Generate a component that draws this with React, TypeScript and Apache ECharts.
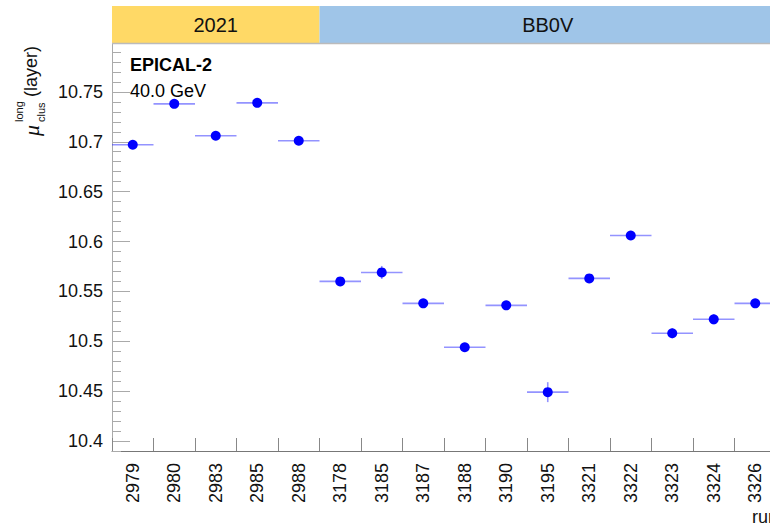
import React, { useEffect, useRef } from 'react';
import * as echarts from 'echarts';

const runs = ['2979', '2980', '2983', '2985', '2988', '3178', '3185', '3187', '3188', '3190', '3195', '3321', '3322', '3323', '3324', '3326'];
const meanLayer = [10.697, 10.738, 10.706, 10.739, 10.701, 10.560, 10.569, 10.538, 10.494, 10.536, 10.449, 10.563, 10.606, 10.508, 10.522, 10.538];
const meanLayerErr = [0.002, 0.002, 0.002, 0.002, 0.002, 0.002, 0.0065, 0.003, 0.002, 0.002, 0.010, 0.002, 0.002, 0.005, 0.005, 0.002];
const yMajorTicks = [10.4, 10.45, 10.5, 10.55, 10.6, 10.65, 10.7, 10.75];
const yMinorTicks = [10.39, 10.4, 10.41, 10.42, 10.43, 10.44, 10.45, 10.46, 10.47, 10.48, 10.49, 10.5, 10.51, 10.52, 10.53, 10.54, 10.55, 10.56, 10.57, 10.58, 10.59, 10.6, 10.61, 10.62, 10.63, 10.64, 10.65, 10.66, 10.67, 10.68, 10.69, 10.7, 10.71, 10.72, 10.73, 10.74, 10.75, 10.76, 10.77, 10.78, 10.79];
const periods = ['2021', 'BB0V'];
const periodRunCounts = [5, 11];
const periodColors = ['#FFD966', '#9FC5E8'];
const Y_MIN = 10.39;
const Y_MAX = 10.798;

const FONT = 'Liberation Sans, Arial, Helvetica, sans-serif';

export default function App() {
  const ref = useRef<HTMLDivElement>(null);
  useEffect(() => {
    if (!ref.current) return;
    const chart = echarts.init(ref.current, null, { renderer: 'svg' });
    const option: any = {
      animation: false,
      backgroundColor: '#ffffff',
      grid: { left: 112, top: 44, width: 664, height: 407, containLabel: false },
      xAxis: {
        type: 'category',
        data: runs,
        boundaryGap: true,
        axisLine: { show: true, lineStyle: { color: '#777777', width: 1 } },
        axisTick: { show: true, inside: true, length: 13, interval: 0, alignWithLabel: false, lineStyle: { color: '#888888', width: 1 } },
        axisLabel: { show: true, interval: 0, rotate: 90, margin: 12, fontSize: 18, fontFamily: FONT, color: '#111111' },
        splitLine: { show: false },
      },
      yAxis: [
        {
          type: 'value',
          min: Y_MIN,
          max: Y_MAX,
          position: 'left',
          axisLine: { show: true, lineStyle: { color: '#aaaaaa', width: 1 } },
          axisTick: { show: true, inside: true, length: 18, customValues: yMajorTicks, lineStyle: { color: '#aaaaaa', width: 1 } },
          axisLabel: {
            show: true,
            customValues: yMajorTicks,
            margin: 9,
            fontSize: 18,
            fontFamily: FONT,
            color: '#111111',
            formatter: (v: number) => String(+v.toFixed(2)),
          },
          splitLine: { show: false },
        },
        {
          type: 'value',
          min: Y_MIN,
          max: Y_MAX,
          position: 'left',
          axisLine: { show: false },
          axisTick: { show: true, inside: true, length: 9, customValues: yMinorTicks, lineStyle: { color: '#aaaaaa', width: 1 } },
          axisLabel: { show: false },
          splitLine: { show: false },
        },
      ],
      series: [
        {
          type: 'custom',
          xAxisIndex: 0,
          yAxisIndex: 0,
          encode: { x: 0, y: 1 },
          data: runs.map((r, i) => [i, meanLayer[i], meanLayerErr[i]]),
          renderItem: (params: any, api: any) => {
            const i = api.value(0);
            const v = api.value(1);
            const e = api.value(2);
            const c = api.coord([i, v]);
            const w = api.size([1, 0])[0];
            const t = api.coord([i, v + e]);
            const b = api.coord([i, v - e]);
            const style = { stroke: 'rgba(40,40,255,0.5)', lineWidth: 1.6 };
            return {
              type: 'group',
              children: [
                { type: 'line', shape: { x1: c[0] - w / 2, y1: c[1], x2: c[0] + w / 2, y2: c[1] }, style },
                { type: 'line', shape: { x1: c[0], y1: t[1], x2: c[0], y2: b[1] }, style },
              ],
            };
          },
          z: 2,
        },
        {
          type: 'scatter',
          xAxisIndex: 0,
          yAxisIndex: 0,
          data: runs.map((r, i) => [i, meanLayer[i]]),
          symbol: 'circle',
          symbolSize: 10,
          itemStyle: { color: '#0000ff', opacity: 1 },
          z: 3,
        },
      ],
    };
    chart.setOption(option);

    const c0 = chart.convertToPixel({ xAxisIndex: 0 }, 0) as number;
    const c1 = chart.convertToPixel({ xAxisIndex: 0 }, 1) as number;
    const binW = c1 - c0;
    const startX = c0 - binW / 2;
    const graphics: any[] = [];
    let idx = 0;
    periods.forEach((p, k) => {
      const x0 = startX + idx * binW;
      const x1 = startX + (idx + periodRunCounts[k]) * binW;
      graphics.push({
        type: 'rect',
        shape: { x: x0, y: 6, width: x1 - x0, height: 37 },
        style: { fill: periodColors[k] },
        z: 10,
      });
      graphics.push({
        type: 'text',
        x: (x0 + x1) / 2,
        y: 25,
        style: { text: p, font: `20px ${FONT}`, fill: '#111111', align: 'center', verticalAlign: 'middle' },
        z: 11,
      });
      idx += periodRunCounts[k];
    });
    graphics.push({
      type: 'line',
      shape: { x1: startX, y1: 43.5, x2: startX + idx * binW, y2: 43.5 },
      style: { stroke: '#bbbbbb', lineWidth: 1.5 },
      z: 11,
    });
    graphics.push({
      type: 'text',
      x: 130,
      y: 65,
      style: { text: 'EPICAL-2', font: `bold 18px ${FONT}`, fill: '#000000', align: 'left', verticalAlign: 'middle' },
      z: 11,
    });
    graphics.push({
      type: 'text',
      x: 130,
      y: 91,
      style: { text: '40.0 GeV', font: `18px ${FONT}`, fill: '#000000', align: 'left', verticalAlign: 'middle' },
      z: 11,
    });
    graphics.push({
      type: 'text',
      x: 752,
      y: 517,
      style: { text: 'run', font: `18px ${FONT}`, fill: '#111111', align: 'left', verticalAlign: 'middle' },
      z: 11,
    });
    graphics.push({
      type: 'group',
      x: 31,
      y: 136,
      rotation: Math.PI / 2,
      z: 11,
      children: [
        { type: 'text', x: 0, y: 0, style: { text: 'μ', font: `italic 22px Liberation Serif, serif`, fill: '#111111', align: 'left', verticalAlign: 'middle' } },
        { type: 'text', x: 14, y: -12, style: { text: 'long', font: `11px ${FONT}`, fill: '#111111', align: 'left', verticalAlign: 'middle' } },
        { type: 'text', x: 14, y: 10, style: { text: 'clus', font: `11px ${FONT}`, fill: '#111111', align: 'left', verticalAlign: 'middle' } },
        { type: 'text', x: 39, y: 0, style: { text: '(layer)', font: `18px ${FONT}`, fill: '#111111', align: 'left', verticalAlign: 'middle' } },
      ],
    });
    chart.setOption({ graphic: graphics });

    return () => chart.dispose();
  }, []);
  return <div ref={ref} style={{ position: 'fixed', left: 0, top: 0, width: 800, height: 527 }} />;
}
